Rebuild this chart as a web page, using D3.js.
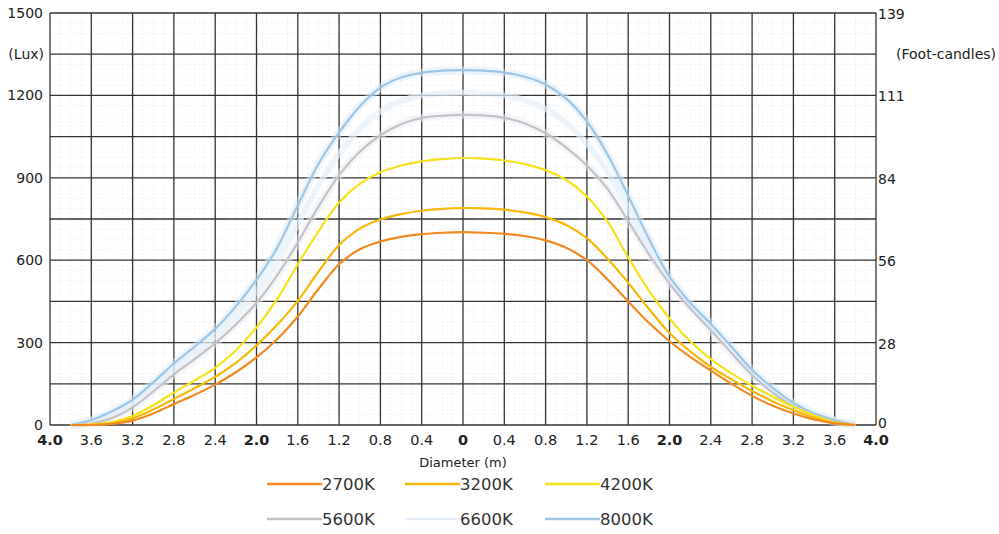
<!DOCTYPE html>
<html><head><meta charset="utf-8">
<script src="https://cdn.jsdelivr.net/npm/d3@7"></script>
<style>body{margin:0;background:#fff;} text{font-family:"DejaVu Sans",Verdana,sans-serif;}</style>
</head><body><svg id="c" width="999" height="534"></svg>
<script>
const diam = [-3.8,-3.6,-3.4,-3.2,-3.0,-2.8,-2.6,-2.4,-2.2,-2.0,-1.8,-1.6,-1.4,-1.2,-1.0,-0.8,-0.6,-0.4,-0.2,0,0.2,0.4,0.6,0.8,1.0,1.2,1.4,1.6,1.8,2.0,2.2,2.4,2.6,2.8,3.0,3.2,3.4,3.6,3.8];
const lux2700 = [0,0,4,16,42,76,110,147,192,246,312,395,495,585,640,668,685,695,700,702,700,696,688,672,645,600,530,450,372,305,248,198,150,106,70,42,20,6,0];
const lux3200 = [0,0,6,24,56,95,134,175,226,290,365,452,558,655,715,748,768,780,787,790,789,784,774,757,728,680,605,518,423,335,268,212,166,124,86,54,27,8,0];
const lux4200 = [0,2,11,33,72,118,162,208,272,355,458,585,705,810,878,920,945,960,968,972,970,963,950,928,892,832,740,610,490,388,305,240,188,143,103,66,35,10,0];
const lux5600 = [0,6,25,64,122,184,240,298,366,445,545,665,795,910,995,1055,1095,1118,1126,1129,1127,1118,1098,1062,1010,945,860,742,622,515,425,345,262,182,118,68,34,12,0];
const lux6600 = [0,12,38,78,138,204,262,324,399,486,595,732,872,988,1078,1142,1180,1200,1208,1210,1208,1200,1183,1151,1099,1025,922,788,650,528,435,356,274,191,126,74,38,15,0];
const lux8000 = [0,18,50,92,155,224,285,350,432,528,645,800,950,1065,1160,1228,1265,1282,1290,1292,1290,1283,1268,1240,1188,1105,985,835,678,540,445,368,285,200,135,80,42,18,0];
const seriesNames = ["2700K","3200K","4200K","5600K","6600K","8000K"];
const seriesColors = ["#f28a22","#f7b80a","#f6e21a","#c2c2c8","#e6eff8","#9cc5e6"];
const xTicks = [-4,-3.6,-3.2,-2.8,-2.4,-2,-1.6,-1.2,-0.8,-0.4,0,0.4,0.8,1.2,1.6,2,2.4,2.8,3.2,3.6,4];
const luxTicks = [0,300,600,900,1200,1500];
const fcLabels = ["0","28","56","84","111","139"];

const svg = d3.select("#c");
const L=50, R=876, T=13, B=425;
const x = d3.scaleLinear().domain([-4,4]).range([L,R]);
const y = d3.scaleLinear().domain([0,1500]).range([B,T]);

// faint minor dotted grid
const g0 = svg.append("g");
g0.selectAll("line.mx").data(d3.range(-40,41).filter(i=>i%4!==0)).enter().append("line")
  .attr("x1",i=>x(i/10)).attr("x2",i=>x(i/10)).attr("y1",T).attr("y2",B)
  .attr("stroke","#e6e6e6").attr("stroke-width",1).attr("stroke-dasharray","1,3");
g0.selectAll("line.my").data(d3.range(1,40).filter(i=>i%4!==0)).enter().append("line")
  .attr("y1",i=>y(i*37.5)).attr("y2",i=>y(i*37.5)).attr("x1",L).attr("x2",R)
  .attr("stroke","#e6e6e6").attr("stroke-width",1).attr("stroke-dasharray","1,3");

// major grid
const g1 = svg.append("g");
g1.selectAll("line.v").data(xTicks).enter().append("line")
  .attr("x1",d=>x(d)).attr("x2",d=>x(d)).attr("y1",T).attr("y2",B)
  .attr("stroke","#333").attr("stroke-width",1.3);
g1.selectAll("line.h").data(d3.range(0,1501,150)).enter().append("line")
  .attr("y1",d=>y(d)).attr("y2",d=>y(d)).attr("x1",L).attr("x2",R)
  .attr("stroke","#333").attr("stroke-width",1.3);

// curves
const data = [lux2700,lux3200,lux4200,lux5600,lux6600,lux8000];
const line = d3.line().x((d,i)=>x(diam[i])).y(d=>y(d)).curve(d3.curveCatmullRom.alpha(0.5));
const gc = svg.append("g");
[5,3].forEach(k=>{
  gc.append("path").attr("d",line(data[k])).attr("fill","none")
    .attr("stroke", k===5?"#dcebf7":"#e9edf1").attr("stroke-width",8).attr("opacity",0.5);
});
gc.append("path").attr("d",line(data[4])).attr("fill","none").attr("stroke",seriesColors[4]).attr("stroke-width",6).attr("opacity",0.7);
[5,3,2,1,0].forEach(k=>{
  gc.append("path").attr("d",line(data[k])).attr("fill","none")
    .attr("stroke",seriesColors[k]).attr("stroke-width",2.2);
});

// left axis labels
const gl = svg.append("g");
gl.selectAll("text").data(luxTicks).enter().append("text")
  .attr("x",43).attr("y",d=>y(d)).attr("dy","0.35em").attr("text-anchor","end")
  .attr("font-size",14).attr("fill","#222").text(d=>d);
gl.append("text").attr("x",44).attr("y",y(1350)).attr("dy","0.35em").attr("text-anchor","end")
  .attr("font-size",14).attr("fill","#222").text("(Lux)");
// right axis labels
const gr = svg.append("g");
gr.selectAll("text").data(luxTicks).enter().append("text")
  .attr("x",R+2).attr("y",(d,i)=>y(d)+(i===0?-2:1)).attr("dy","0.35em").attr("text-anchor","start")
  .attr("font-size",14).attr("fill","#222").text((d,i)=>fcLabels[i]);
gr.append("text").attr("x",996).attr("y",y(1350)).attr("dy","0.35em").attr("text-anchor","end")
  .attr("font-size",14).attr("fill","#222").text("(Foot-candles)");

// x tick labels
const fmt = d=> d===0 ? "0" : Math.abs(d).toFixed(1);
svg.append("g").selectAll("text").data(xTicks).enter().append("text")
  .attr("x",d=>x(d)).attr("y",440).attr("dy","0.35em").attr("text-anchor","middle")
  .attr("font-size",14.5).attr("fill","#222")
  .attr("font-weight",d=>(Math.abs(d)===4||Math.abs(d)===2||d===0)?"bold":"normal")
  .text(fmt);
svg.append("text").attr("x",x(0)).attr("y",462).attr("dy","0.35em").attr("text-anchor","middle")
  .attr("font-size",13).attr("fill","#222").text("Diameter (m)");

// legend
const legX = [267,405,545], legY = [484,519];
const gLeg = svg.append("g");
seriesNames.forEach((n,i)=>{
  const cx = legX[i%3], cy = legY[Math.floor(i/3)];
  gLeg.append("line").attr("x1",cx).attr("x2",cx+55).attr("y1",cy).attr("y2",cy)
    .attr("stroke",seriesColors[i]).attr("stroke-width",2.5);
  gLeg.append("text").attr("x",cx+55).attr("y",cy).attr("dy","0.36em")
    .attr("font-size",16.5).attr("fill","#333").text(n);
});
</script></body></html>
